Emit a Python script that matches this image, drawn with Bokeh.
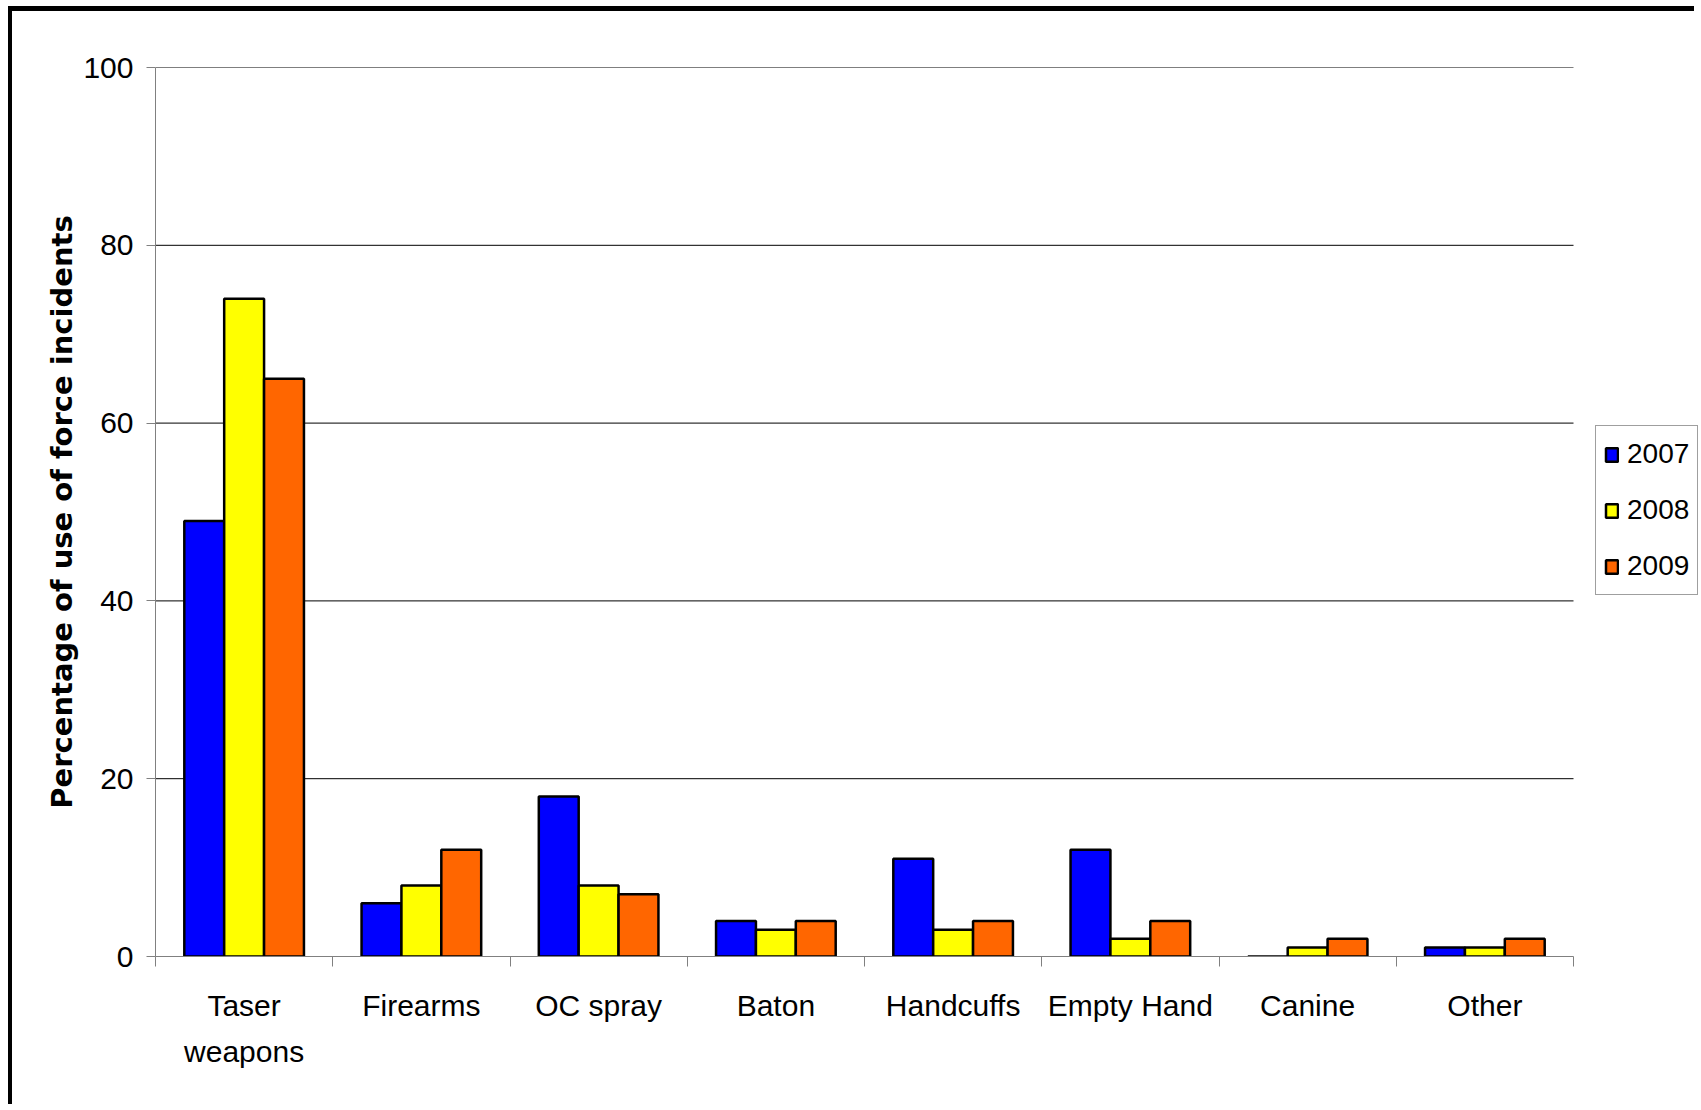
from bokeh.plotting import figure
from bokeh.models import (ColumnDataSource, Range1d, FixedTicker, Legend, LegendItem)
from bokeh.transform import dodge
from bokeh.embed import file_html
from bokeh.resources import INLINE

categories = ["Taser\nweapons", "Firearms", "OC spray", "Baton", "Handcuffs",
              "Empty Hand", "Canine", "Other"]
years = ["2007", "2008", "2009"]
v2007 = [49, 6, 18, 4, 11, 12, 0, 1]
v2008 = [74, 8, 8, 3, 3, 2, 1, 1]
v2009 = [65, 12, 7, 4, 4, 4, 2, 2]
y_ticks = [0, 20, 40, 60, 80, 100]
colors = ["#0000FF", "#FFFF00", "#FF6600"]

n = len(categories)
xs = [i + 0.5 for i in range(n)]
src = ColumnDataSource(dict(x=xs, v2007=v2007, v2008=v2008, v2009=v2009))

FONT = "Liberation Sans"

W, H = 1686, 1098
LEFT, TOP, BOTTOM = 143, 56, 153
PLOT_W = 1418                      # width of the category area in px
FRAME_W = W - LEFT                 # frame extends to the canvas edge (room for legend)
x_end = n * FRAME_W / PLOT_W

p = figure(width=W, height=H, output_backend="svg", toolbar_location=None,
           x_range=Range1d(0, x_end), y_range=Range1d(0, 100),
           min_border_left=LEFT, min_border_right=0, min_border_top=TOP,
           min_border_bottom=BOTTOM)
p.styles = {"border-left": "4px solid black", "border-top": "5px solid black",
            "margin-left": "8px", "margin-top": "6px"}
p.outline_line_color = None
p.background_fill_color = "white"
p.border_fill_color = "white"

# horizontal grid lines limited to the category area
p.xgrid.visible = False
p.ygrid.visible = False
gl = y_ticks[1:]
p.segment(x0=[0] * len(gl), x1=[n] * len(gl), y0=gl, y1=gl,
          line_color="black", line_width=1, level="underlay")

bw = 0.225
offsets = [-bw, 0.0, bw]
renderers = []
for yr, col, off in zip(years, colors, offsets):
    r = p.vbar(x=dodge("x", off, range=p.x_range), top="v" + yr, width=bw,
               source=src, fill_color=col, line_color="black", line_width=2.5)
    renderers.append(r)

p.yaxis.ticker = FixedTicker(ticks=y_ticks)
p.yaxis.axis_line_color = "#808080"
p.yaxis.major_tick_line_color = "#808080"
p.yaxis.major_tick_in = 0
p.yaxis.major_tick_out = 9
p.yaxis.minor_tick_line_color = None
p.yaxis.major_label_text_font = FONT
p.yaxis.major_label_text_font_size = "30px"
p.yaxis.major_label_text_color = "black"
p.yaxis.major_label_standoff = 13
p.yaxis.axis_label = "Percentage of use of force incidents"
p.yaxis.axis_label_text_font = "DejaVu Sans"
p.yaxis.axis_label_text_font_style = "bold"
p.yaxis.axis_label_text_font_size = "29px"
p.yaxis.axis_label_text_color = "black"
p.yaxis.axis_label_standoff = 1

p.xaxis.bounds = (0, n)
p.xaxis.ticker = FixedTicker(ticks=xs, minor_ticks=list(range(n + 1)))
p.xaxis.major_label_overrides = {x: c for x, c in zip(xs, categories)}
p.xaxis.axis_line_color = "#808080"
p.xaxis.major_tick_line_color = None
p.xaxis.minor_tick_line_color = "#808080"
p.xaxis.minor_tick_in = 0
p.xaxis.minor_tick_out = 10
p.xaxis.major_label_text_font = FONT
p.xaxis.major_label_text_font_size = "30px"
p.xaxis.major_label_text_color = "black"
p.xaxis.major_label_text_line_height = 1.4
p.xaxis.major_label_standoff = 22

legend = Legend(items=[LegendItem(label=yr, renderers=[r]) for yr, r in zip(years, renderers)],
                location=(PLOT_W + 22, 361), orientation="vertical")
legend.margin = 0
legend.padding = 8
legend.spacing = 16
legend.label_height = 40
legend.glyph_width = 15
legend.glyph_height = 17
legend.label_standoff = 8
legend.label_text_font = FONT
legend.label_text_font_size = "28px"
legend.label_text_color = "black"
legend.border_line_color = "#404040"
legend.border_line_width = 1
legend.background_fill_color = "white"
p.add_layout(legend)

open("out.html", "w").write(file_html(p, INLINE))
